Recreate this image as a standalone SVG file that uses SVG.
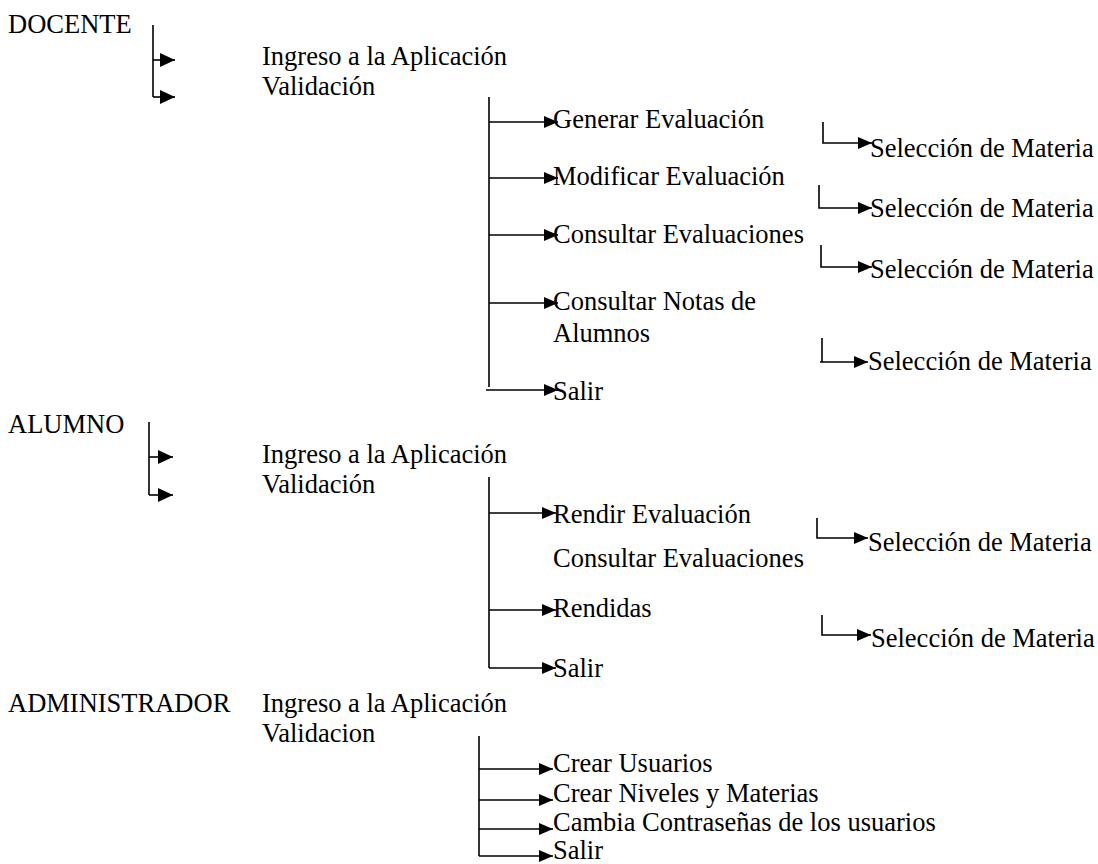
<svg xmlns="http://www.w3.org/2000/svg" width="1098" height="864" viewBox="0 0 1098 864">
  <style>
    .t text { font-family: 'Liberation Serif', 'Times New Roman', 'DejaVu Serif', serif; font-size: 26.5px; fill: #000; }
    .ln { stroke: #000; stroke-width: 1.6; fill: none; }
    .ar { stroke: #000; stroke-width: 1.6; fill: none; marker-end: url(#ah); }
    .arL { stroke: #000; stroke-width: 1.6; fill: none; marker-end: url(#ahL); }
  </style>
  <defs>
    <marker id="ah" markerUnits="userSpaceOnUse" markerWidth="14" markerHeight="12" viewBox="0 0 14 12" refX="14" refY="6" orient="auto">
      <path d="M0,0 L14,6 L0,12 Z" fill="#000"/>
    </marker>
    <marker id="ahL" markerUnits="userSpaceOnUse" markerWidth="15" markerHeight="14" viewBox="0 0 15 14" refX="15" refY="7" orient="auto">
      <path d="M0,0 L15,7 L0,14 Z" fill="#000"/>
    </marker>
  </defs>

  <!-- connectors -->
  <g id="connectors">
    <!-- DOCENTE -->
    <path class="ln" d="M153,25 V97"/>
    <path class="arL" d="M153,60 H175"/>
    <path class="arL" d="M153,97 H175"/>
    <path class="ln" d="M489,97 V387"/>
    <path class="ar" d="M489,122 H558"/>
    <path class="ar" d="M489,178 H558"/>
    <path class="ar" d="M489,235 H558"/>
    <path class="ar" d="M489,303 H558"/>
    <path class="ar" d="M486,390 H558"/>
    <path class="ar" d="M823,122 V143 H872"/>
    <path class="ar" d="M819,185 V208 H872"/>
    <path class="ar" d="M821,245 V267 H872"/>
    <path class="ln" d="M822,338 V362"/>
    <path class="ar" d="M820,362 H868"/>
    <!-- ALUMNO -->
    <path class="ln" d="M149,422 V495"/>
    <path class="arL" d="M149,457 H173"/>
    <path class="arL" d="M149,495 H173"/>
    <path class="ln" d="M489,477 V668"/>
    <path class="ar" d="M489,513 H556"/>
    <path class="ar" d="M489,610 H556"/>
    <path class="ar" d="M489,668 H556"/>
    <path class="ar" d="M817,518 V538 H868"/>
    <path class="ar" d="M822,615 V635 H871"/>
    <!-- ADMINISTRADOR -->
    <path class="ln" d="M479,736 V856"/>
    <path class="ar" d="M479,769 H553"/>
    <path class="ar" d="M479,800 H553"/>
    <path class="ar" d="M479,829 H553"/>
    <path class="ar" d="M479,856 H553"/>
  </g>

  <g class="t" font-family="Liberation Serif, serif" font-size="26.5">
  <!-- DOCENTE -->
  <g id="docente"><text x="8" y="33">DOCENTE</text></g>
  <g id="docente-ingreso"><text x="262" y="65">Ingreso a la Aplicación</text></g>
  <g id="docente-validacion"><text x="262" y="95">Validación</text></g>
  <g id="docente-generar"><text x="553" y="128">Generar Evaluación</text></g>
  <g id="docente-modificar"><text x="553" y="185">Modificar Evaluación</text></g>
  <g id="docente-consultar-eval"><text x="553" y="243">Consultar Evaluaciones</text></g>
  <g id="docente-consultar-notas"><text x="553" y="310">Consultar Notas de</text><text x="553" y="342">Alumnos</text></g>
  <g id="docente-salir"><text x="553" y="400">Salir</text></g>
  <g id="docente-materia-1"><text x="870" y="157">Selección de Materia</text></g>
  <g id="docente-materia-2"><text x="870" y="217">Selección de Materia</text></g>
  <g id="docente-materia-3"><text x="870" y="278">Selección de Materia</text></g>
  <g id="docente-materia-4"><text x="868" y="370">Selección de Materia</text></g>

  <!-- ALUMNO -->
  <g id="alumno"><text x="8" y="433">ALUMNO</text></g>
  <g id="alumno-ingreso"><text x="262" y="463">Ingreso a la Aplicación</text></g>
  <g id="alumno-validacion"><text x="262" y="493">Validación</text></g>
  <g id="alumno-rendir"><text x="553" y="523">Rendir Evaluación</text></g>
  <g id="alumno-consultar"><text x="553" y="567">Consultar Evaluaciones</text><text x="553" y="617">Rendidas</text></g>
  <g id="alumno-salir"><text x="553" y="677">Salir</text></g>
  <g id="alumno-materia-1"><text x="868" y="551">Selección de Materia</text></g>
  <g id="alumno-materia-2"><text x="871" y="647">Selección de Materia</text></g>

  <!-- ADMINISTRADOR -->
  <g id="administrador"><text x="8" y="712">ADMINISTRADOR</text></g>
  <g id="admin-ingreso"><text x="262" y="712">Ingreso a la Aplicación</text></g>
  <g id="admin-validacion"><text x="262" y="742">Validacion</text></g>
  <g id="admin-usuarios"><text x="553" y="772">Crear Usuarios</text></g>
  <g id="admin-niveles"><text x="553" y="802">Crear Niveles y Materias</text></g>
  <g id="admin-contrasenas"><text x="553" y="831">Cambia Contraseñas de los usuarios</text></g>
  <g id="admin-salir"><text x="553" y="859">Salir</text></g>
  </g>
</svg>
